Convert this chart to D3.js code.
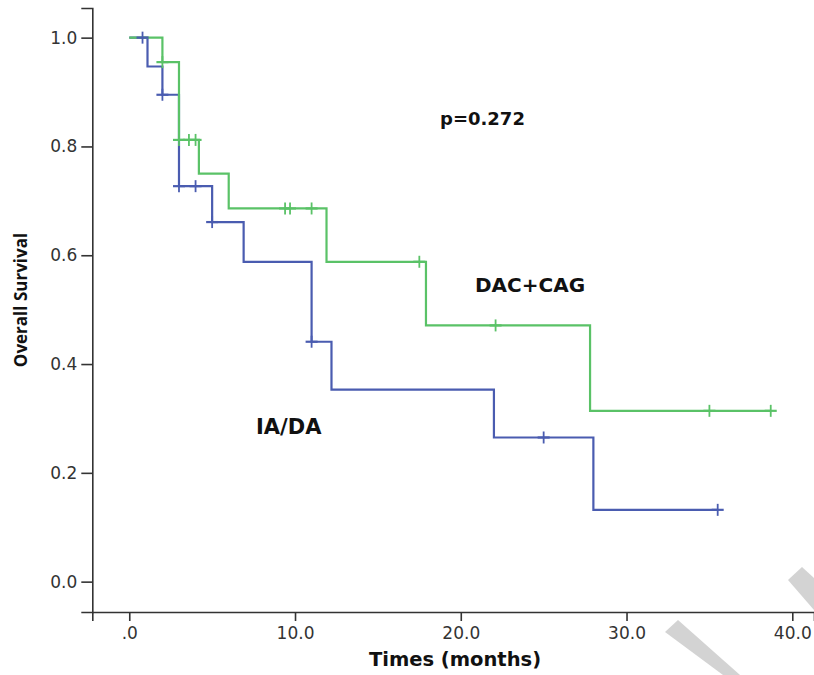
<!DOCTYPE html>
<html>
<head>
<meta charset="utf-8">
<script src="https://cdn.jsdelivr.net/npm/d3@7"></script>
<style>
  body { margin: 0; background: #fff; }
  .tick text { font-family: "DejaVu Sans", sans-serif; font-size: 17px; fill: #333; }
  .axis path, .axis line { stroke: #333; stroke-width: 1.6; }
  .lbl { font-family: "DejaVu Sans", sans-serif; font-weight: bold; fill: #111; }
</style>
</head>
<body>
<div id="chart"></div>
<script>
// IA/DA group (blue): step times and survival after each step
var iaTimes = [0, 1.1, 2.0, 3.0, 5.0, 6.9, 11.0, 12.2, 22.0, 28.0, 35.5];
var iaSurv  = [1.0, 0.947, 0.895, 0.727, 0.661, 0.588, 0.441, 0.353, 0.265, 0.132, 0.132];
var iaCensor = [0.8, 2.0, 3.0, 4.0, 5.0, 11.0, 25.0, 35.5];

// DAC+CAG group (green)
var dacTimes = [0, 2.0, 3.0, 4.2, 6.0, 11.9, 17.9, 27.8, 38.7];
var dacSurv  = [1.0, 0.955, 0.812, 0.75, 0.686, 0.588, 0.471, 0.314, 0.314];
var dacCensor = [2.0, 3.0, 3.6, 4.0, 9.4, 9.7, 11.0, 17.5, 22.1, 35.0, 38.7];

var xTicks = [0, 10, 20, 30, 40];
var yTicks = [0, 0.2, 0.4, 0.6, 0.8, 1.0];

var svgWidth = 814;
var svgHeight = 675;

var svg = d3.select("#chart").append("svg")
    .attr("width", svgWidth)
    .attr("height", svgHeight);

// axis domains run a little past the data like the SPSS frame
var x = d3.scaleLinear().domain([-2.23, 41.31]).range([92.3, 814]);
var y = d3.scaleLinear().domain([-0.0558, 1.0545]).range([612, 8]);

svg.append("g")
    .attr("class", "axis")
    .attr("transform", "translate(0,612)")
    .call(d3.axisBottom(x).tickValues(xTicks).tickSizeOuter(0).tickSize(9).tickPadding(6)
        .tickFormat(d => d === 0 ? ".0" : d.toFixed(1)));

svg.append("g")
    .attr("class", "axis")
    .attr("transform", "translate(92.3,0)")
    .call(d3.axisLeft(y).tickValues(yTicks).tickSizeOuter(0).tickSize(11).tickPadding(4)
        .tickFormat(d3.format(".1f")));

// step value at a time t
function survAt(times, surv, t) {
  var s = surv[0];
  for (var i = 0; i < times.length; i++) {
    if (t >= times[i]) s = surv[i];
  }
  return s;
}

var line = d3.line()
    .x(d => x(d[0]))
    .y(d => y(d[1]))
    .curve(d3.curveStepAfter);

var groups = [
  {times: iaTimes, surv: iaSurv, censor: iaCensor, color: "#4a5cb0"},
  {times: dacTimes, surv: dacSurv, censor: dacCensor, color: "#5ac267"}
];

groups.forEach(function(g) {
  svg.append("path")
      .datum(d3.zip(g.times, g.surv))
      .attr("d", line)
      .attr("fill", "none")
      .attr("stroke", g.color)
      .attr("stroke-width", 2.2);
});

// censor marks (+)
groups.forEach(function(g) {
  var marks = svg.append("g").selectAll("g")
      .data(g.censor)
      .enter().append("g")
      .attr("transform", d => `translate(${x(d)},${y(survAt(g.times, g.surv, d))})`);
  marks.append("line")
      .attr("x1", -6).attr("x2", 6)
      .attr("stroke", g.color).attr("stroke-width", 2.2);
  marks.append("line")
      .attr("y1", -6).attr("y2", 6)
      .attr("stroke", g.color).attr("stroke-width", 1.8);
});

// annotations
svg.append("text").attr("class", "lbl")
    .attr("x", 440).attr("y", 125)
    .style("font-size", "18px")
    .text("p=0.272");

svg.append("text").attr("class", "lbl")
    .attr("x", 475).attr("y", 292)
    .style("font-size", "20px")
    .text("DAC+CAG");

svg.append("text").attr("class", "lbl")
    .attr("x", 256).attr("y", 434)
    .style("font-size", "21px")
    .text("IA/DA");

// axis titles
svg.append("text").attr("class", "lbl")
    .attr("x", 455).attr("y", 666)
    .attr("text-anchor", "middle")
    .style("font-size", "19.5px")
    .text("Times (months)");

svg.append("text")
    .attr("transform", "translate(27,300) rotate(-90)")
    .attr("text-anchor", "middle")
    .style("font-family", "'Open Sans', sans-serif")
    .style("font-weight", "bold")
    .style("font-size", "17px")
    .style("fill", "#111")
    .text("Overall Survival");

// grey watermark strokes in the lower right corner
var marksData = [
  [[665, 632], [678, 620], [740, 675], [723, 675]],
  [[788, 580], [802, 567], [814, 578], [814, 610]]
];
svg.selectAll(".wm")
    .data(marksData)
    .enter().append("polygon")
    .attr("class", "wm")
    .attr("points", d => d.map(p => p.join(",")).join(" "))
    .attr("fill", "#d3d3d3");
</script>
</body>
</html>
